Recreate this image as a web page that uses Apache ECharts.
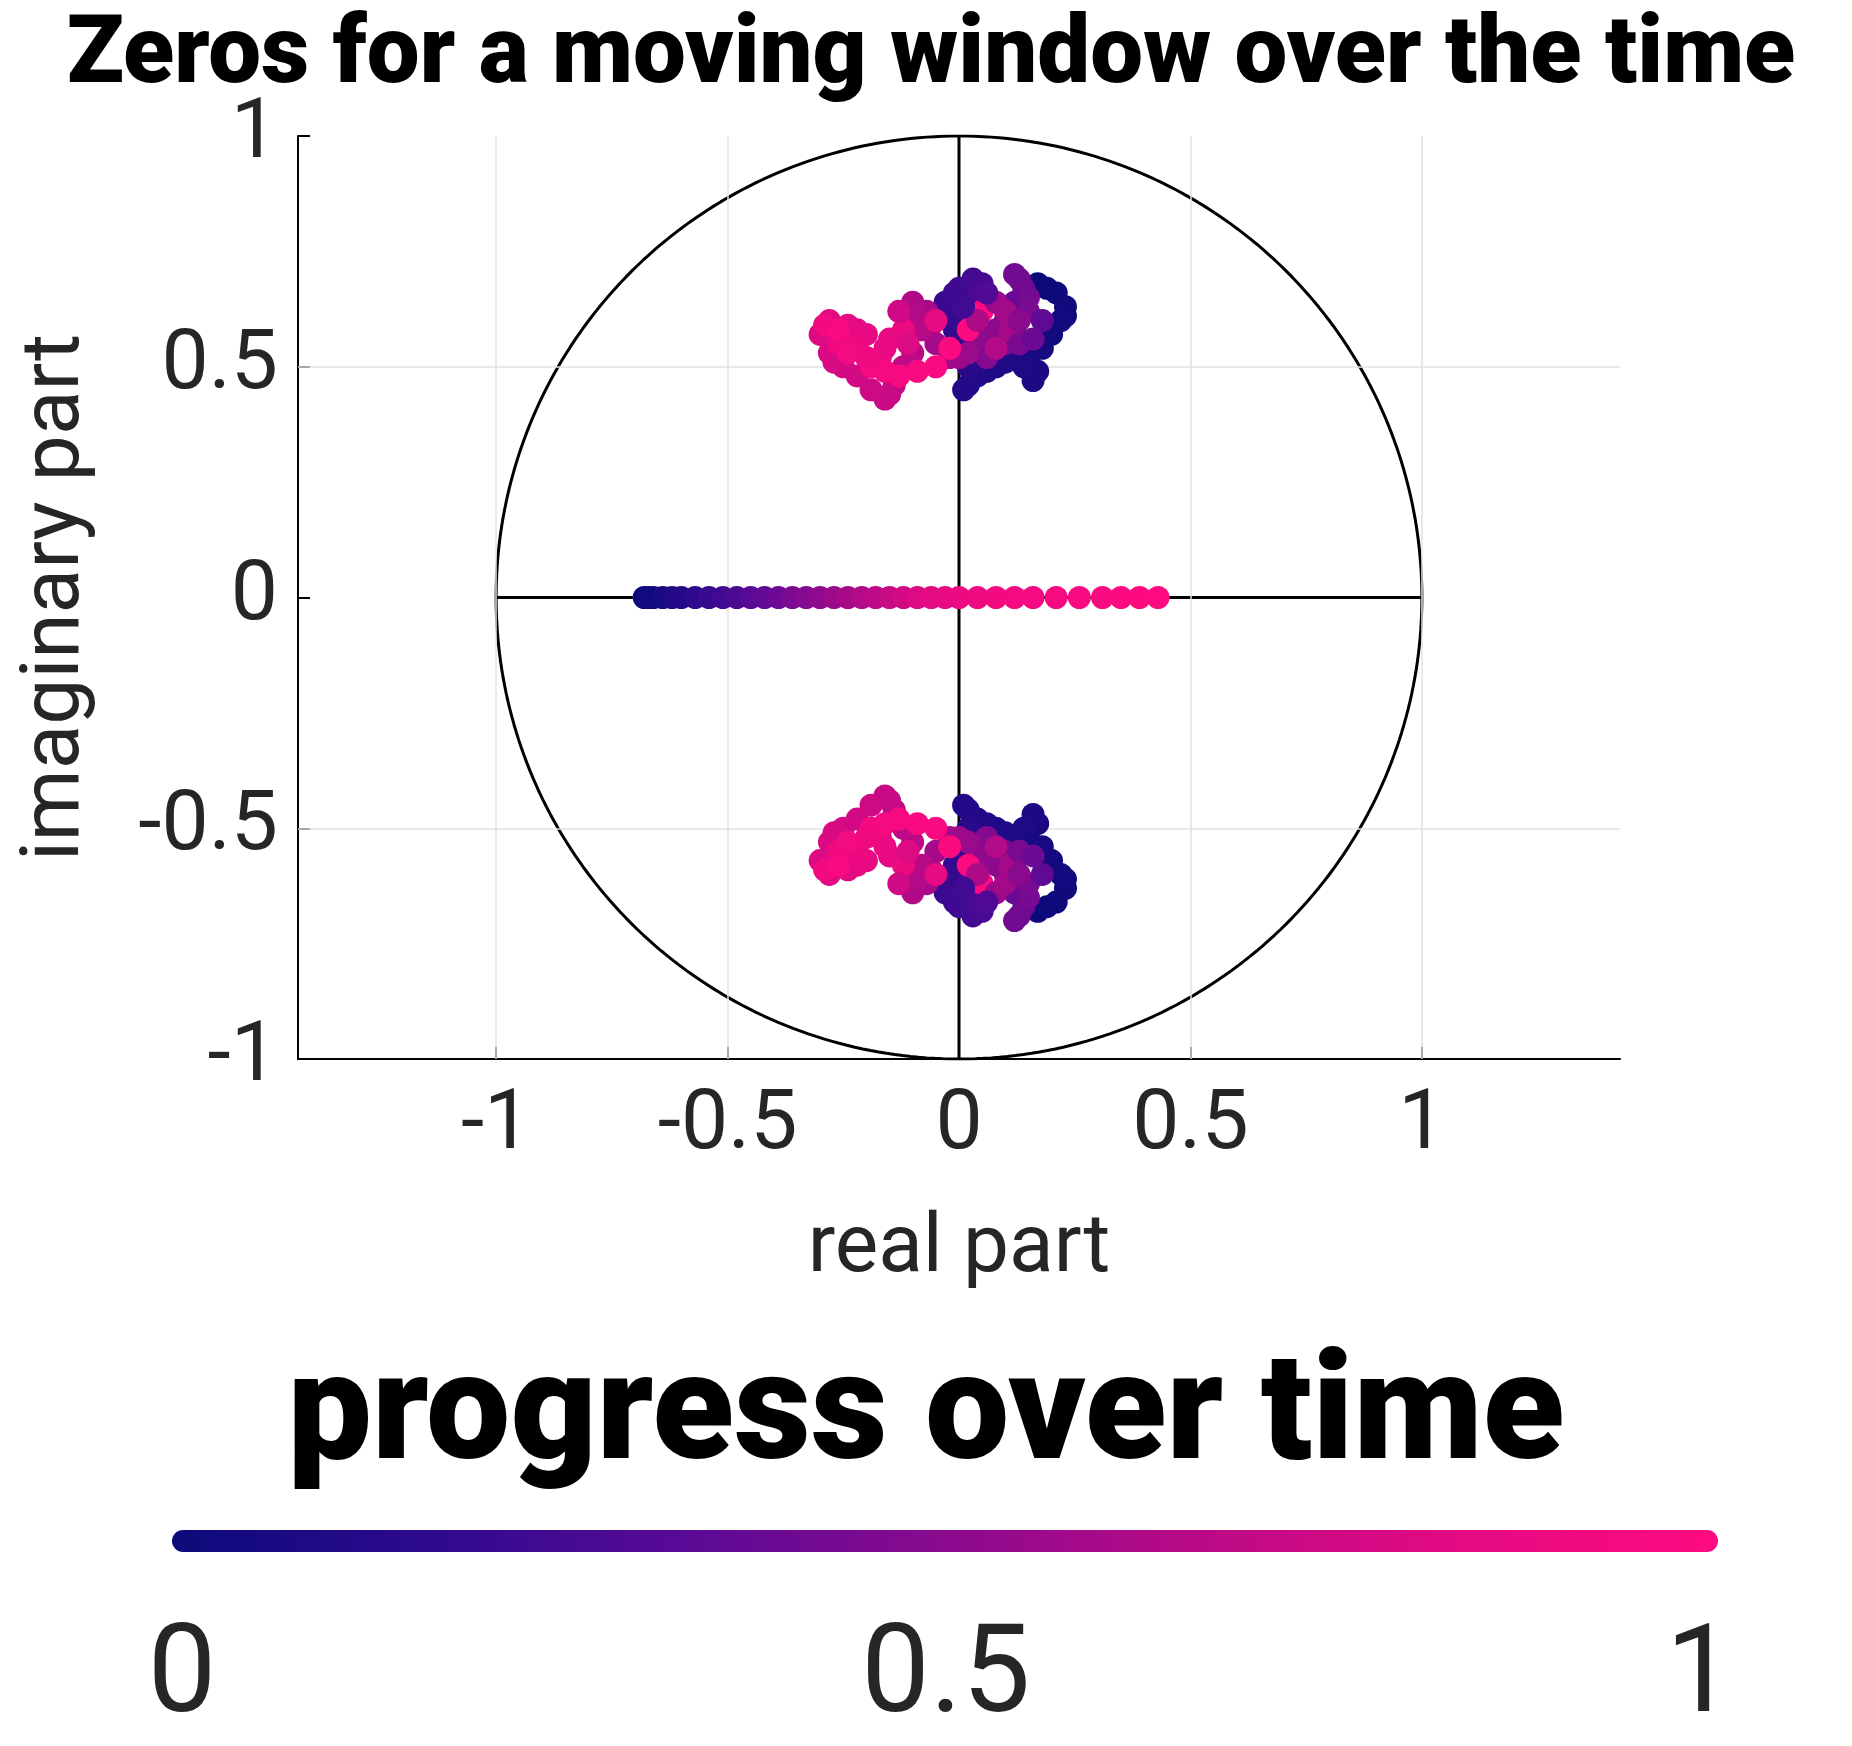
<!DOCTYPE html>
<html><head><meta charset="utf-8">
<script src="https://cdn.jsdelivr.net/npm/echarts@6/dist/echarts.min.js"></script>
<style>html,body{margin:0;background:#fff}#c{width:1852px;height:1746px}</style>
</head><body><div id="c"></div>
<script>
// Upper complex zeros: [real, imag, progress]
const upperZeros = [
[0.17,0.68,0.00],[0.19,0.67,0.005],[0.21,0.66,0.01],[0.23,0.63,0.02],[0.23,0.61,0.025],[0.22,0.60,0.03],[0.20,0.57,0.04],[0.18,0.54,0.05],
[0.15,0.52,0.06],[0.17,0.49,0.07],[0.16,0.47,0.08],[0.14,0.50,0.085],[0.12,0.53,0.09],[0.10,0.51,0.095],[0.08,0.50,0.10],[0.06,0.49,0.105],[0.04,0.48,0.11],
[0.02,0.46,0.115],[0.01,0.45,0.12],[0.02,0.50,0.14],[0.01,0.52,0.15],[0.00,0.55,0.17],[-0.01,0.58,0.18],[-0.02,0.60,0.19],[-0.03,0.64,0.21],[-0.01,0.66,0.22],[0.00,0.67,0.23],
[0.03,0.69,0.25],[0.05,0.68,0.27],[0.04,0.65,0.28],[0.02,0.62,0.29],[0.03,0.60,0.30],[0.05,0.58,0.31],[0.07,0.56,0.33],[0.09,0.58,0.35],[0.10,0.60,0.36],
[0.12,0.64,0.38],[0.14,0.67,0.40],[0.13,0.69,0.41],[0.12,0.70,0.42],[0.15,0.65,0.43],[0.15,0.62,0.44],[0.12,0.58,0.45],[0.10,0.55,0.46],[0.06,0.52,0.48],
[0.08,0.58,0.50],[0.06,0.57,0.51],[0.04,0.56,0.52],[0.02,0.53,0.55],[0.00,0.52,0.56],[-0.02,0.52,0.57],[-0.05,0.55,0.59],[-0.06,0.59,0.60],[-0.07,0.62,0.61],
[-0.10,0.64,0.63],[-0.09,0.61,0.64],[-0.08,0.58,0.65],[-0.10,0.53,0.67],[-0.12,0.50,0.69],[-0.14,0.46,0.70],[-0.15,0.44,0.71],[-0.16,0.43,0.72],
[-0.19,0.45,0.74],[-0.22,0.48,0.76],[-0.25,0.50,0.77],[-0.27,0.51,0.78],[-0.28,0.53,0.79],[-0.30,0.57,0.80],[-0.29,0.59,0.81],[-0.28,0.60,0.82],
[-0.24,0.59,0.83],[-0.22,0.58,0.84],[-0.20,0.57,0.85],[-0.15,0.56,0.86],[-0.16,0.54,0.87],[-0.17,0.52,0.88],[-0.22,0.55,0.89],[-0.26,0.55,0.90],
[-0.29,0.59,0.92],[-0.24,0.53,0.93],[-0.19,0.50,0.94],[-0.16,0.49,0.945],[-0.13,0.48,0.95],[-0.09,0.49,0.96],[-0.05,0.50,0.97],[-0.02,0.54,0.975],[0.02,0.58,0.98],
[0.05,0.62,1.00],[0.11,0.58,0.60],[0.08,0.64,0.56],[0.13,0.55,0.45],[0.18,0.60,0.35],[-0.05,0.60,0.85],
[0.04,0.60,0.62],[0.08,0.54,0.64],[0.10,0.62,0.58],[-0.12,0.58,0.88],[-0.20,0.52,0.90],[-0.26,0.58,0.96],
[-0.11,0.55,0.80],[0.06,0.66,0.30],[0.01,0.63,0.24],[0.13,0.60,0.50],[0.16,0.56,0.40],[-0.13,0.62,0.75]
];
// Real zeros: [real, progress]
const realZeros = [
[-0.68,0.00],[-0.67,0.02],[-0.66,0.03],[-0.64,0.06],[-0.62,0.09],[-0.60,0.12],[-0.57,0.16],[-0.54,0.20],[-0.51,0.24],
[-0.48,0.28],[-0.45,0.32],[-0.42,0.36],[-0.39,0.40],[-0.36,0.44],[-0.33,0.48],[-0.30,0.52],[-0.27,0.56],
[-0.24,0.60],[-0.21,0.64],[-0.18,0.68],[-0.15,0.72],[-0.12,0.76],[-0.09,0.80],[-0.06,0.83],[-0.03,0.86],
[0.00,0.88],[0.04,0.90],[0.08,0.92],[0.12,0.93],[0.16,0.94],[0.21,0.95],[0.26,0.96],[0.31,0.97],
[0.35,0.98],[0.39,0.99],[0.43,1.00]
];
const xTicks = [-1,-0.5,0,0.5,1];
const yTicks = [-1,-0.5,0,0.5,1];
const barTicks = ['0','0.5','1'];

const colors = ['#0c0a7a','#2e0a8e','#5a0a96','#8a0a8e','#bb0a86','#e40a82','#ff0a80'];
const scatterData = [];
upperZeros.forEach(p=>{scatterData.push([p[0],p[1],p[2]]);scatterData.push([p[0],-p[1],p[2]]);});
realZeros.forEach(p=>scatterData.push([p[0],0,p[1]]));
const circle=[];for(let i=0;i<=360;i++){const a=i*Math.PI/180;circle.push([Math.cos(a),Math.sin(a)]);}

const F='Roboto';
const chart = echarts.init(document.getElementById('c'));
chart.setOption({
  backgroundColor:'#fff', animation:false,
  title:{text:'Zeros for a moving window over the time',left:926,textAlign:'center',top:6,
    textStyle:{fontFamily:F,fontWeight:900,fontSize:94,color:'#000'}},
  grid:{left:298,right:232,top:136,bottom:687},
  xAxis:{type:'value',min:-1.428,max:1.428,name:'real part',nameLocation:'middle',nameGap:150,
    nameTextStyle:{fontFamily:F,fontSize:82,color:'#262626'},
    axisLine:{onZero:false,lineStyle:{color:'#000',width:2}},splitLine:{show:false},
    axisTick:{inside:true,length:12,customValues:xTicks,lineStyle:{color:'#000',width:2}},
    axisLabel:{customValues:xTicks,fontFamily:F,fontSize:84,color:'#262626',margin:26}},
  yAxis:{type:'value',min:-1,max:1,name:'imaginary part',nameLocation:'middle',nameGap:200,
    nameTextStyle:{fontFamily:F,fontSize:82,color:'#262626'},
    axisLine:{show:true,onZero:false,lineStyle:{color:'#000',width:2}},splitLine:{show:false},
    axisTick:{show:true,inside:true,length:12,customValues:yTicks,lineStyle:{color:'#000',width:2}},
    axisLabel:{customValues:yTicks,fontFamily:F,fontSize:84,color:'#262626',margin:20}},
  visualMap:{show:false,min:0,max:1,dimension:2,seriesIndex:1,inRange:{color:colors}},
  series:[
    {type:'line',data:circle,showSymbol:false,silent:true,lineStyle:{color:'#000',width:3},z:3,
     markLine:{silent:true,symbol:'none',label:{show:false},
       lineStyle:{color:'#e2e2e2',width:1.5,type:'solid'},
       data:xTicks.filter(v=>v!==0).map(v=>({xAxis:v})).concat(yTicks.filter(v=>v!==0&&Math.abs(v)!==1).map(v=>({yAxis:v})))}},
    {type:'scatter',data:scatterData,symbolSize:23,itemStyle:{opacity:1},z:5},
    {type:'line',data:[[0,-1],[0,1]],showSymbol:false,silent:true,lineStyle:{color:'#000',width:3},z:4},
    {type:'line',data:[[-1,0],[1,0]],showSymbol:false,silent:true,lineStyle:{color:'#000',width:3},z:4}
  ],
  graphic:[
    {type:'text',left:'center',top:1345,style:{text:'progress over time',fontFamily:F,fontWeight:900,fontSize:150,fill:'#000'}},
    {type:'rect',shape:{x:172,y:1530,width:1546,height:22,r:11},
     style:{fill:new echarts.graphic.LinearGradient(0,0,1,0,colors.map((c,i)=>({offset:i/(colors.length-1),color:c})))}},
    {type:'text',x:182,y:1680,style:{text:barTicks[0],fontFamily:F,fontSize:122,fill:'#262626',align:'center',verticalAlign:'middle'}},
    {type:'text',x:946,y:1680,style:{text:barTicks[1],fontFamily:F,fontSize:122,fill:'#262626',align:'center',verticalAlign:'middle'}},
    {type:'text',x:1700,y:1680,style:{text:barTicks[2],fontFamily:F,fontSize:122,fill:'#262626',align:'center',verticalAlign:'middle'}}
  ]
});
</script></body></html>
